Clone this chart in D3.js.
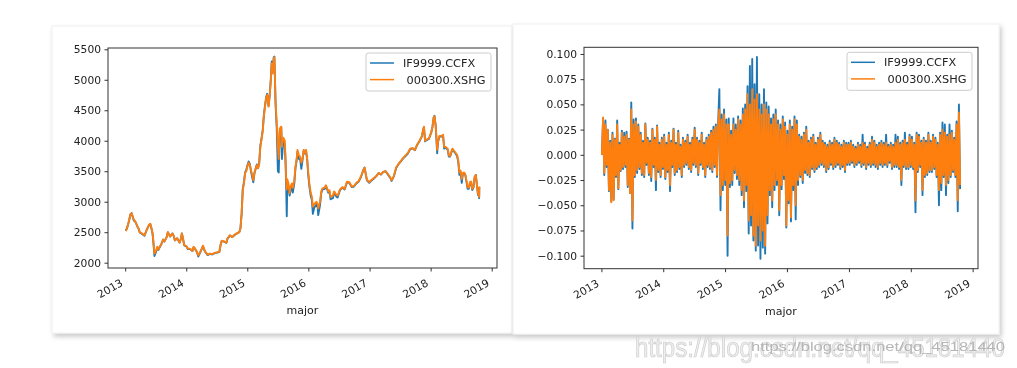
<!DOCTYPE html>
<html>
<head>
<meta charset="utf-8">
<script src="https://cdn.jsdelivr.net/npm/d3@7"></script>
<style>
  body { margin: 0; background: #fff; }
  svg { display: block; font-family: "DejaVu Sans", sans-serif; filter: blur(0.3px); }
</style>
</head>
<body>
<svg id="chart" width="1017" height="368"></svg>
<script>
const seriesNames = ['IF9999.CCFX', ' 000300.XSHG'];
const seriesColors = ['#1f77b4', '#ff7f0e'];
const yearTicks = [2013, 2014, 2015, 2016, 2017, 2018, 2019];
const priceTicks = [2000, 2500, 3000, 3500, 4000, 4500, 5000, 5500];
const returnTicks = [-0.1, -0.075, -0.05, -0.025, 0, 0.025, 0.05, 0.075, 0.1];

// closing prices
const priceDates = [
  '2013-01-04','2013-01-11','2013-01-18','2013-01-25','2013-02-01','2013-02-08','2013-02-22','2013-03-01','2013-03-08','2013-03-15',
  '2013-03-22','2013-03-29','2013-04-12','2013-04-26','2013-05-10','2013-05-24','2013-05-31','2013-06-07','2013-06-14','2013-06-21',
  '2013-06-25','2013-07-05','2013-07-12','2013-07-19','2013-07-26','2013-08-02','2013-08-09','2013-08-16','2013-08-23','2013-09-06',
  '2013-09-13','2013-09-27','2013-10-11','2013-10-18','2013-10-25','2013-11-08','2013-11-22','2013-11-29','2013-12-06','2013-12-13',
  '2013-12-20','2014-01-03','2014-01-10','2014-01-24','2014-02-07','2014-02-14','2014-02-21','2014-03-07','2014-03-14','2014-03-21',
  '2014-04-04','2014-04-11','2014-04-18','2014-04-25','2014-05-09','2014-05-23','2014-06-06','2014-06-20','2014-06-27','2014-07-04',
  '2014-07-18','2014-07-25','2014-08-01','2014-08-15','2014-08-29','2014-09-05','2014-09-19','2014-10-03','2014-10-17','2014-10-31',
  '2014-11-14','2014-11-21','2014-11-28','2014-12-05','2014-12-12','2014-12-19','2014-12-26','2014-12-31','2015-01-09','2015-01-16',
  '2015-01-23','2015-01-30','2015-02-06','2015-02-13','2015-02-27','2015-03-06','2015-03-13','2015-03-20','2015-03-27','2015-04-03',
  '2015-04-10','2015-04-17','2015-04-24','2015-04-30','2015-05-08','2015-05-15','2015-05-22','2015-05-27','2015-06-01','2015-06-08',
  '2015-06-12','2015-06-19','2015-06-26','2015-07-03','2015-07-08','2015-07-14','2015-07-23','2015-07-27','2015-08-04','2015-08-13',
  '2015-08-18','2015-08-21','2015-08-25','2015-08-28','2015-09-04','2015-09-11','2015-09-18','2015-09-25','2015-09-30','2015-10-09',
  '2015-10-16','2015-10-23','2015-10-28','2015-11-06','2015-11-13','2015-11-20','2015-11-27','2015-12-04','2015-12-11','2015-12-18',
  '2015-12-25','2015-12-31','2016-01-07','2016-01-15','2016-01-22','2016-01-28','2016-02-05','2016-02-19','2016-02-26','2016-02-29',
  '2016-03-11','2016-03-18','2016-03-25','2016-04-08','2016-04-15','2016-04-29','2016-05-06','2016-05-13','2016-05-27','2016-06-03',
  '2016-06-17','2016-06-24','2016-07-08','2016-07-22','2016-08-05','2016-08-19','2016-09-02','2016-09-16','2016-09-30','2016-10-14',
  '2016-10-28','2016-11-11','2016-11-25','2016-12-02','2016-12-16','2016-12-30','2017-01-13','2017-01-27','2017-02-10','2017-02-24',
  '2017-03-10','2017-03-24','2017-04-07','2017-04-21','2017-05-05','2017-05-12','2017-05-26','2017-06-09','2017-06-23','2017-07-07',
  '2017-07-21','2017-08-04','2017-08-18','2017-09-01','2017-09-15','2017-09-29','2017-10-13','2017-10-27','2017-11-10','2017-11-17',
  '2017-11-22','2017-11-29','2017-12-08','2017-12-22','2018-01-05','2018-01-12','2018-01-19','2018-01-24','2018-01-31','2018-02-06',
  '2018-02-09','2018-02-14','2018-02-23','2018-03-09','2018-03-16','2018-03-23','2018-03-30','2018-04-13','2018-04-20','2018-04-27',
  '2018-05-11','2018-05-25','2018-06-08','2018-06-15','2018-06-22','2018-06-29','2018-07-06','2018-07-13','2018-07-20','2018-07-27',
  '2018-08-03','2018-08-10','2018-08-17','2018-08-24','2018-08-31','2018-09-07','2018-09-14','2018-09-21','2018-09-28','2018-10-11',
  '2018-10-12','2018-10-18','2018-10-19'
];
const priceHS = [
  2520,2560,2620,2700,2790,2810,2700,2680,2640,2600,
  2560,2500,2480,2450,2540,2620,2640,2570,2480,2280,
  2150,2200,2260,2220,2260,2290,2330,2380,2350,2420,
  2500,2430,2480,2440,2370,2400,2330,2380,2480,2390,
  2290,2270,2230,2230,2190,2260,2240,2170,2120,2150,
  2230,2280,2220,2180,2130,2150,2140,2160,2165,2170,
  2180,2290,2360,2350,2330,2400,2450,2420,2460,2480,
  2500,2560,2800,3200,3300,3470,3500,3560,3640,3600,
  3520,3440,3350,3480,3600,3550,3620,3900,4020,4150,
  4400,4560,4700,4750,4560,4740,5000,5270,5100,5350,
  5370,4640,4280,3900,3700,4200,4230,3900,4050,4000,
  3700,3400,3200,3370,3300,3140,3260,3300,3230,3350,
  3580,3700,3850,3760,3740,3640,3700,3850,3800,3850,
  3700,3500,3300,3150,3080,2920,2960,3000,2950,2890,
  3000,3170,3220,3230,3270,3170,3190,3080,3100,3170,
  3110,3100,3200,3240,3210,3330,3320,3250,3260,3310,
  3340,3420,3520,3560,3360,3320,3360,3390,3420,3470,
  3450,3490,3500,3450,3400,3350,3420,3560,3620,3670,
  3720,3760,3800,3870,3880,3850,3940,4000,4080,4180,
  4230,4000,4020,4040,4140,4230,4380,4400,4250,4000,
  3850,3990,4080,4080,4100,3900,3900,3870,3760,3750,
  3870,3820,3770,3680,3480,3510,3370,3470,3480,3450,
  3350,3240,3230,3320,3330,3210,3240,3410,3440,3130,
  3200,3080,3250
];
const priceIF = [
  2525,2560,2620,2700,2790,2815,2690,2680,2640,2590,
  2560,2495,2470,2440,2540,2620,2635,2560,2470,2250,
  2110,2180,2250,2210,2250,2285,2330,2380,2345,2420,
  2500,2430,2480,2440,2365,2400,2330,2380,2480,2390,
  2285,2265,2225,2225,2190,2255,2235,2165,2100,2140,
  2225,2275,2215,2175,2125,2145,2135,2155,2160,2165,
  2175,2285,2355,2345,2325,2395,2445,2420,2455,2480,
  2500,2560,2800,3210,3320,3480,3520,3580,3660,3620,
  3500,3400,3320,3470,3610,3550,3630,3920,4040,4170,
  4420,4580,4720,4770,4570,4750,5030,5300,5110,5370,
  5380,4600,4200,3500,3480,4150,4220,3700,4000,3950,
  3600,3300,2760,3300,3250,3100,3200,3250,3150,3300,
  3550,3680,3820,3700,3700,3540,3680,3840,3790,3840,
  3690,3450,3250,3100,3030,2800,2900,2960,2900,2780,
  2950,3140,3200,3210,3260,3150,3170,3040,3060,3150,
  3080,3070,3190,3230,3200,3320,3310,3240,3250,3300,
  3330,3410,3520,3560,3350,3310,3350,3380,3420,3470,
  3445,3490,3500,3445,3390,3340,3415,3555,3615,3660,
  3710,3750,3790,3865,3875,3845,3935,3995,4075,4175,
  4220,3990,4010,4030,4140,4230,4380,4410,4250,3950,
  3795,3980,4070,4070,4090,3870,3890,3850,3740,3740,
  3860,3810,3750,3660,3440,3490,3310,3460,3470,3440,
  3330,3210,3210,3300,3320,3190,3230,3400,3440,3110,
  3190,3060,3240
];

// daily log returns (evenly spaced over the period)
const returnStart = '2013-01-04';
const returnEnd = '2018-10-19';
const returnHS = [
  0.000, 0.037,-0.018, 0.030,-0.010, 0.025,-0.035, 0.012,-0.047, 0.020,
 -0.045, 0.015,-0.020, 0.030,-0.033, 0.010,-0.015, 0.022,-0.012, 0.018,
 -0.010, 0.020,-0.030, 0.015,-0.038, 0.045,-0.065, 0.030,-0.020, 0.033,
 -0.015, 0.028,-0.012, 0.020,-0.018, 0.012,-0.020, 0.030,-0.008, 0.015,
 -0.018, 0.012,-0.022, 0.025,-0.010, 0.015,-0.025, 0.028,-0.015, 0.010,
 -0.020, 0.015,-0.012, 0.018,-0.022, 0.010,-0.015, 0.020,-0.030, 0.012,
 -0.010, 0.025,-0.018, 0.010,-0.015, 0.022,-0.012, 0.008,-0.020, 0.015,
 -0.010, 0.012,-0.008, 0.018,-0.012, 0.010,-0.015, 0.015,-0.008, 0.025,
 -0.010, 0.015,-0.018, 0.012,-0.008, 0.020,-0.012, 0.010,-0.020, 0.015,
 -0.010, 0.018,-0.012, 0.022,-0.015, 0.025,-0.010, 0.028,-0.020, 0.030,
  0.045,-0.040, 0.035,-0.030, 0.040,-0.025, 0.030,-0.080, 0.030,-0.028,
  0.020,-0.025, 0.030,-0.015, 0.025,-0.020, 0.035,-0.025, 0.030,-0.035,
  0.040,-0.045, 0.045,-0.030, 0.060,-0.065, 0.050,-0.060, 0.065,-0.080,
  0.055,-0.090, 0.060,-0.070, 0.045,-0.085, 0.040,-0.075, 0.050,-0.090,
  0.045,-0.060, 0.040,-0.035, 0.030,-0.045, 0.035,-0.030, 0.040,-0.025,
  0.030,-0.055, 0.025,-0.030, 0.035,-0.020, 0.028,-0.070, 0.020,-0.045,
  0.030,-0.062, 0.025,-0.030, 0.035,-0.050, 0.030,-0.025, 0.018,-0.020,
  0.015,-0.025, 0.020,-0.015, 0.025,-0.018, 0.012,-0.020, 0.015,-0.012,
  0.018,-0.015, 0.010,-0.012, 0.015,-0.010, 0.020,-0.008, 0.012,-0.010,
  0.010,-0.015, 0.008,-0.012, 0.012,-0.008, 0.010,-0.012, 0.015,-0.010,
  0.012,-0.008, 0.010,-0.012, 0.008,-0.010, 0.012,-0.015, 0.010,-0.008,
  0.010,-0.008, 0.012,-0.006, 0.008,-0.010, 0.006,-0.008, 0.010,-0.006,
  0.008,-0.010, 0.012,-0.008, 0.010,-0.012, 0.006,-0.008, 0.010,-0.010,
  0.015,-0.008, 0.012,-0.010, 0.008,-0.012, 0.010,-0.008, 0.012,-0.010,
  0.010,-0.008, 0.012,-0.010, 0.008,-0.006, 0.010,-0.012, 0.008,-0.010,
  0.012,-0.010, 0.015,-0.012, 0.010,-0.025, 0.012,-0.010, 0.015,-0.012,
  0.010,-0.012, 0.018,-0.010, 0.015,-0.012, 0.010,-0.045, 0.020,-0.015,
  0.018,-0.010, 0.012,-0.035, 0.015,-0.020, 0.012,-0.018, 0.020,-0.015,
  0.012,-0.015, 0.018,-0.012, 0.015,-0.020, 0.010,-0.035, 0.020,-0.028,
  0.025,-0.020, 0.022,-0.030, 0.018,-0.025, 0.020,-0.020, 0.022,-0.015,
  0.015,-0.020, 0.030,-0.045, 0.042,-0.030
];
const returnIF = [
  0.000, 0.036,-0.020, 0.034,-0.012, 0.025,-0.036, 0.014,-0.046, 0.022,
 -0.044, 0.016,-0.022, 0.034,-0.034, 0.012,-0.016, 0.024,-0.014, 0.022,
 -0.012, 0.023,-0.032, 0.016,-0.038, 0.052,-0.073, 0.035,-0.022, 0.036,
 -0.018, 0.030,-0.014, 0.022,-0.020, 0.014,-0.022, 0.031,-0.010, 0.017,
 -0.020, 0.014,-0.026, 0.026,-0.012, 0.017,-0.035, 0.029,-0.017, 0.012,
 -0.022, 0.017,-0.014, 0.020,-0.024, 0.012,-0.017, 0.022,-0.036, 0.014,
 -0.012, 0.026,-0.020, 0.012,-0.017, 0.024,-0.014, 0.010,-0.022, 0.017,
 -0.012, 0.014,-0.010, 0.020,-0.014, 0.012,-0.017, 0.017,-0.010, 0.027,
 -0.012, 0.017,-0.020, 0.014,-0.010, 0.022,-0.014, 0.012,-0.022, 0.017,
 -0.012, 0.020,-0.014, 0.024,-0.017, 0.028,-0.012, 0.030,-0.022, 0.032,
  0.065,-0.055, 0.040,-0.035, 0.045,-0.030, 0.035,-0.100, 0.036,-0.032,
  0.024,-0.030, 0.036,-0.018, 0.030,-0.024, 0.038,-0.030, 0.034,-0.040,
  0.046,-0.052, 0.050,-0.036, 0.068,-0.078, 0.088,-0.070, 0.095,-0.085,
  0.070,-0.095, 0.097,-0.090, 0.060,-0.103, 0.050,-0.092, 0.065,-0.098,
  0.052,-0.068, 0.048,-0.040, 0.036,-0.052, 0.040,-0.035, 0.045,-0.030,
  0.034,-0.060, 0.030,-0.034, 0.038,-0.024, 0.032,-0.072, 0.024,-0.048,
  0.034,-0.066, 0.028,-0.035, 0.038,-0.064, 0.034,-0.030, 0.020,-0.022,
  0.018,-0.028, 0.022,-0.018, 0.028,-0.020, 0.014,-0.022, 0.017,-0.014,
  0.020,-0.017, 0.012,-0.014, 0.017,-0.012, 0.022,-0.010, 0.014,-0.012,
  0.012,-0.017, 0.010,-0.014, 0.014,-0.010, 0.012,-0.014, 0.017,-0.012,
  0.014,-0.010, 0.012,-0.014, 0.010,-0.012, 0.014,-0.017, 0.012,-0.010,
  0.012,-0.010, 0.014,-0.008, 0.010,-0.012, 0.008,-0.010, 0.012,-0.008,
  0.010,-0.012, 0.020,-0.010, 0.012,-0.014, 0.008,-0.010, 0.012,-0.012,
  0.018,-0.010, 0.014,-0.012, 0.010,-0.014, 0.012,-0.010, 0.014,-0.012,
  0.012,-0.010, 0.020,-0.012, 0.010,-0.008, 0.012,-0.014, 0.010,-0.012,
  0.020,-0.012, 0.018,-0.014, 0.012,-0.030, 0.014,-0.012, 0.022,-0.014,
  0.012,-0.014, 0.020,-0.012, 0.018,-0.014, 0.012,-0.057, 0.022,-0.017,
  0.020,-0.012, 0.014,-0.040, 0.017,-0.022, 0.014,-0.020, 0.022,-0.017,
  0.014,-0.017, 0.020,-0.014, 0.017,-0.022, 0.012,-0.050, 0.022,-0.035,
  0.032,-0.022, 0.030,-0.040, 0.020,-0.028, 0.030,-0.022, 0.024,-0.017,
  0.017,-0.022, 0.033,-0.056, 0.050,-0.034
];

const parse = d3.timeParse('%Y-%m-%d');
const svg = d3.select('#chart');

// card shadow
const defs = svg.append('defs');
const shadow = defs.append('filter').attr('id', 'card-shadow')
    .attr('x', '-5%').attr('y', '-5%').attr('width', '115%').attr('height', '120%');
shadow.append('feDropShadow')
    .attr('dx', 2).attr('dy', 3).attr('stdDeviation', 2.5)
    .attr('flood-color', '#000').attr('flood-opacity', 0.22);

svg.append('rect').attr('width', 1017).attr('height', 368).attr('fill', '#fff');

function drawCard(x, y, w, h) {
    svg.append('rect')
        .attr('x', x).attr('y', y).attr('width', w).attr('height', h)
        .attr('fill', '#fff')
        .attr('stroke', '#f0f0f0')
        .attr('filter', 'url(#card-shadow)');
}

function drawPanel(box, yDomain, yTicks, yFormat, series) {
    const g = svg.append('g');
    const allDates = series[0].map(d => d.date);
    const [d0, d1] = d3.extent(allDates);
    const pad = (d1 - d0) * 0.05;
    const x = d3.scaleTime()
        .domain([new Date(+d0 - pad), new Date(+d1 + pad)])
        .range([box.left, box.right]);
    const y = d3.scaleLinear().domain(yDomain).range([box.bottom, box.top]);

    const clipId = 'clip' + box.left;
    defs.append('clipPath').attr('id', clipId)
        .append('rect')
        .attr('x', box.left).attr('y', box.top)
        .attr('width', box.right - box.left).attr('height', box.bottom - box.top);

    const line = d3.line().x(d => x(d.date)).y(d => y(d.value));
    g.append('g').attr('clip-path', `url(#${clipId})`)
        .selectAll('path')
        .data(series)
        .join('path')
        .attr('d', line)
        .attr('fill', 'none')
        .attr('stroke', (d, i) => seriesColors[i])
        .attr('stroke-width', 1.9)
        .attr('stroke-linejoin', 'round');

    // y axis
    const yAxis = g.append('g')
        .attr('transform', `translate(${box.left},0)`)
        .call(d3.axisLeft(y).tickValues(yTicks).tickFormat(yFormat).tickSize(3.5).tickPadding(3.5));
    yAxis.select('.domain').remove();
    yAxis.selectAll('line').attr('stroke', '#333');
    yAxis.selectAll('text').attr('fill', '#222').style('font-size', '10.7px')
        .style('font-family', '"DejaVu Sans", sans-serif');

    // x axis
    const years = yearTicks.map(yr => new Date(yr, 0, 1));
    const xAxis = g.append('g')
        .attr('transform', `translate(0,${box.bottom})`)
        .call(d3.axisBottom(x).tickValues(years).tickFormat(d3.timeFormat('%Y')).tickSize(3.5));
    xAxis.select('.domain').remove();
    xAxis.selectAll('line').attr('stroke', '#333');
    xAxis.selectAll('text')
        .attr('y', 0).attr('dy', 0).attr('x', 0)
        .attr('text-anchor', 'end')
        .attr('transform', 'translate(-2,17) rotate(-30)')
        .attr('fill', '#222').style('font-size', '10.7px')
        .style('font-family', '"DejaVu Sans", sans-serif');

    g.append('text')
        .attr('x', (box.left + box.right) / 2)
        .attr('y', box.bottom + 46)
        .attr('text-anchor', 'middle')
        .attr('fill', '#222')
        .style('font-size', '11px')
        .text('major');

    // frame
    g.append('rect')
        .attr('x', box.left).attr('y', box.top)
        .attr('width', box.right - box.left).attr('height', box.bottom - box.top)
        .attr('fill', 'none').attr('stroke', '#333').attr('stroke-width', 1);

    // legend
    const lw = 125, lh = 38;
    const lg = g.append('g')
        .attr('transform', `translate(${box.right - 6 - lw},${box.top + 5})`);
    lg.append('rect')
        .attr('width', lw).attr('height', lh).attr('rx', 2.5)
        .attr('fill', '#fff').attr('fill-opacity', 0.8)
        .attr('stroke', '#cccccc');
    const rows = lg.selectAll('g.row').data(seriesNames).join('g')
        .attr('class', 'row')
        .attr('transform', (d, i) => `translate(0,${10 + i * 16.6})`);
    rows.append('line')
        .attr('x1', 4).attr('x2', 28)
        .attr('stroke', (d, i) => seriesColors[i]).attr('stroke-width', 1.5);
    rows.append('text')
        .attr('x', 37).attr('dy', '0.36em')
        .attr('fill', '#222')
        .style('font-size', '11.3px')
        .style('white-space', 'pre')
        .attr('xml:space', 'preserve')
        .text(d => d);
}

drawCard(52, 26, 460, 307);
drawCard(513, 24, 486, 310);

const priceSeries = [priceIF, priceHS].map(vals =>
    vals.map((v, i) => ({ date: parse(priceDates[i]), value: v })));
drawPanel({ left: 108, right: 497, top: 48, bottom: 268 },
    [1913, 5521], priceTicks, d3.format('d'), priceSeries);

const t0 = parse(returnStart), t1 = parse(returnEnd);
const returnSeries = [returnIF, returnHS].map(vals =>
    vals.map((v, i) => ({ date: new Date(+t0 + (t1 - t0) * i / (vals.length - 1)), value: v })));
drawPanel({ left: 584, right: 978, top: 47.3, bottom: 268.7 },
    [-0.1129, 0.1066], returnTicks, d3.format('.3f'), returnSeries);

// csdn watermark
svg.append('text')
    .attr('x', 635).attr('y', 357)
    .attr('textLength', 370).attr('lengthAdjust', 'spacingAndGlyphs')
    .attr('fill', '#eeeeee').attr('stroke', '#cdcdcd').attr('stroke-width', 0.7)
    .style('font-family', '"Liberation Sans", Arial, sans-serif')
    .style('font-size', '27px')
    .text('https://blog.csdn.net/qq_45181440');
svg.append('text')
    .attr('x', 751).attr('y', 351)
    .attr('textLength', 254).attr('lengthAdjust', 'spacingAndGlyphs')
    .attr('fill', '#b5b5b5')
    .style('font-family', '"Liberation Sans", Arial, sans-serif')
    .style('font-size', '13px')
    .text('https://blog.csdn.net/qq_45181440');
</script>
</body>
</html>
